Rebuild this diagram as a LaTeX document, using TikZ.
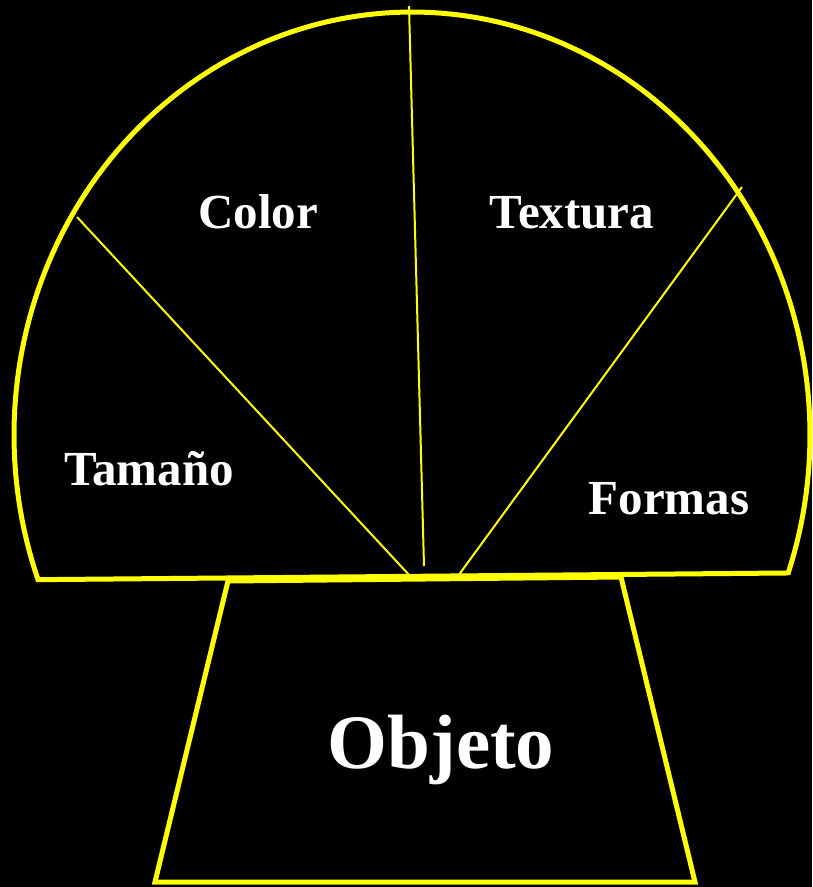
\documentclass[tikz,border=0pt]{standalone}
\usepackage{fontspec}
\setmainfont{Liberation Serif}
\definecolor{ylw}{RGB}{255,255,0}
\begin{document}
\begin{tikzpicture}[x=1pt,y=-1pt,
 thickline/.style={draw=ylw,line width=5pt,line join=miter},
 thinline/.style={draw=ylw,line width=2pt},
 lbl/.style={text=white,font=\bfseries\fontsize{49}{54}\selectfont,anchor=base,inner sep=0pt},
 biglbl/.style={text=white,font=\bfseries\fontsize{77}{82}\selectfont,anchor=base,inner sep=0pt}]
\fill[black] (0,0) rectangle (812,887);
\useasboundingbox (0,0) rectangle (812,887);
% dome
\coordinate (bl) at (38,581);
\coordinate (br) at (786,573);
\draw[thickline] (br) -- plot[domain=-19:200,samples=160] ({412+398*cos(\x)},{435-423*sin(\x)}) -- cycle;
% base trapezoid
\coordinate (tl) at (228,581);
\coordinate (tr) at (621,577);
\coordinate (ql) at (155,882);
\coordinate (qr) at (695,882);
\draw[thickline] (tl) -- (ql) -- (qr) -- (tr) -- cycle;
% dividing lines
\coordinate (a1) at (411,577);
\coordinate (a2) at (77,217);
\coordinate (b1) at (424,566);
\coordinate (b2) at (409,6);
\coordinate (c1) at (458,576);
\coordinate (c2) at (742,187);
\draw[thinline] (a1) -- (a2);
\draw[thinline] (b1) -- (b2);
\draw[thinline] (c1) -- (c2);
% labels
\node[lbl] (color) at (258,228) {Color};
\node[lbl] (textura) at (572,228) {Textura};
\node[lbl] (tamano) at (149,485) {Tamaño};
\node[lbl] (formas) at (669,514) {Formas};
\node[biglbl] (objeto) at (441,768) {Objeto};
\end{tikzpicture}
\end{document}
